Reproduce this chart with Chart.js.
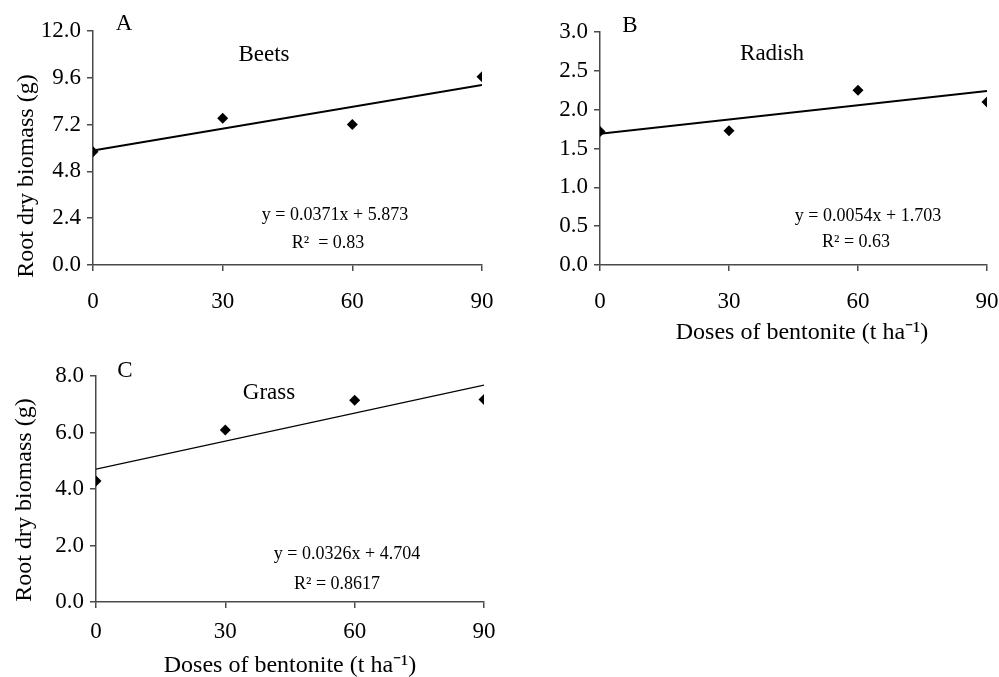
<!DOCTYPE html>
<html>
<head>
<meta charset="utf-8">
<script src="https://cdn.jsdelivr.net/npm/chart.js@4.4.1/dist/chart.umd.min.js"></script>
<style>
  html, body { margin: 0; padding: 0; background: #fff; }
  body { width: 999px; height: 677px; position: relative; overflow: hidden; }
  canvas { position: absolute; }
</style>
</head>
<body>
<canvas id="panelA" width="499" height="330" style="left:0;top:0;width:499px;height:330px"></canvas>
<canvas id="panelB" width="499" height="360" style="left:500px;top:0;width:499px;height:360px"></canvas>
<canvas id="panelC" width="499" height="347" style="left:0;top:330px;width:499px;height:347px"></canvas>
<script>
/* data */
const doses = [0, 30, 60, 90];
const beets = [5.81, 7.52, 7.21, 9.66];
const radish = [1.72, 1.73, 2.25, 2.10];
const grass = [4.28, 6.09, 7.14, 7.17];

// regression line ends (x = 0 and x = 90)
const trendX = [0, 90];
const beetsTrend = [5.87, 9.23];
const radishTrend = [1.69, 2.24];
const grassTrend = [4.70, 7.68];

// y ticks
const beetsTicks = [0, 2.4, 4.8, 7.2, 9.6, 12];
const radishTicks = [0, 0.5, 1, 1.5, 2, 2.5, 3];
const grassTicks = [0, 2, 4, 6, 8];

const SERIF = '"Liberation Serif", "Times New Roman", serif';
const AXIS = '#4a4a4a';
const Y_TITLE = 'Root dry biomass (g)';
const X_TITLE = 'Doses of bentonite (t ha\u207B\u00B9)';

function pts(xs, ys) {
  return xs.map((x, i) => ({ x: x, y: ys[i] }));
}

/* little plugin to write panel letters, crop names, equations and axis titles */
const notes = {
  id: 'notes',
  afterDraw(chart, args, opts) {
    const ctx = chart.ctx;
    (opts.items || []).forEach(n => {
      ctx.save();
      ctx.fillStyle = '#000';
      ctx.textAlign = 'center';
      ctx.textBaseline = 'middle';
      ctx.font = n.size + 'px ' + SERIF;
      ctx.translate(n.x, n.y);
      if (n.rotate) ctx.rotate(-Math.PI / 2);
      ctx.fillText(n.text, 0, 0);
      ctx.restore();
    });
  }
};

function makePanel(id, cfg) {
  const ctx = document.getElementById(id).getContext('2d');
  return new Chart(ctx, {
    type: 'scatter',
    data: {
      datasets: [
        {
          data: pts(doses, cfg.values),
          pointStyle: 'rectRot',
          pointRadius: 5.5,
          pointBackgroundColor: '#000',
          pointBorderColor: '#000',
          pointBorderWidth: 0,
          showLine: false
        },
        {
          data: pts(trendX, cfg.trend),
          showLine: true,
          pointRadius: 0,
          borderColor: '#000',
          borderWidth: cfg.lineWidth
        }
      ]
    },
    options: {
      responsive: false,
      animation: false,
      events: [],
      layout: { padding: cfg.padding },
      plugins: {
        legend: { display: false },
        tooltip: { enabled: false },
        notes: { items: cfg.notes }
      },
      scales: {
        x: {
          type: 'linear',
          min: 0,
          max: 90,
          afterFit: s => { s.height = cfg.xHeight; s.paddingLeft = 0; s.paddingRight = 0; },
          afterBuildTicks: s => { s.ticks = doses.map(v => ({ value: v })); },
          ticks: { color: '#000', font: { family: SERIF, size: 23 }, padding: cfg.xTickPad, maxRotation: 0 },
          grid: { drawOnChartArea: false, drawTicks: true, tickLength: 6, color: AXIS, lineWidth: 1.5 },
          border: { display: true, color: AXIS, width: 1.5 }
        },
        y: {
          min: 0,
          max: cfg.yTicks[cfg.yTicks.length - 1],
          afterFit: s => { s.width = cfg.yWidth; s.paddingTop = 0; s.paddingBottom = 0; },
          afterBuildTicks: s => { s.ticks = cfg.yTicks.map(v => ({ value: v })); },
          ticks: { color: '#000', font: { family: SERIF, size: 23 }, padding: 6, callback: v => Number(v).toFixed(1) },
          grid: { drawOnChartArea: false, drawTicks: true, tickLength: 6, color: AXIS, lineWidth: 1.5 },
          border: { display: true, color: AXIS, width: 1.5 }
        }
      }
    },
    plugins: [notes]
  });
}

makePanel('panelA', {
  values: beets,
  trend: beetsTrend,
  yTicks: beetsTicks,
  lineWidth: 2,
  padding: { top: 31, right: 17, left: 0, bottom: 0 },
  yWidth: 93,
  xHeight: 65,
  xTickPad: 17,
  notes: [
    { text: 'A', x: 124, y: 24, size: 23 },
    { text: 'Beets', x: 264, y: 55, size: 23 },
    { text: 'y = 0.0371x + 5.873', x: 335, y: 215, size: 18 },
    { text: 'R\u00B2  = 0.83', x: 328, y: 243, size: 18 },
    { text: Y_TITLE, x: 27, y: 176, size: 24, rotate: true }
  ]
});

makePanel('panelB', {
  values: radish,
  trend: radishTrend,
  yTicks: radishTicks,
  lineWidth: 2,
  padding: { top: 32, right: 12, left: 0, bottom: 0 },
  yWidth: 100,
  xHeight: 95,
  xTickPad: 17,
  notes: [
    { text: 'B', x: 130, y: 26, size: 23 },
    { text: 'Radish', x: 272, y: 54, size: 23 },
    { text: 'y = 0.0054x + 1.703', x: 368, y: 216, size: 18 },
    { text: 'R\u00B2 = 0.63', x: 356, y: 242, size: 18 },
    { text: X_TITLE, x: 302, y: 333, size: 24 }
  ]
});

makePanel('panelC', {
  values: grass,
  trend: grassTrend,
  yTicks: grassTicks,
  lineWidth: 1.2,
  padding: { top: 46, right: 15, left: 0, bottom: 0 },
  yWidth: 96,
  xHeight: 75,
  xTickPad: 10,
  notes: [
    { text: 'C', x: 125, y: 41, size: 23 },
    { text: 'Grass', x: 269, y: 63, size: 23 },
    { text: 'y = 0.0326x + 4.704', x: 347, y: 224, size: 18 },
    { text: 'R\u00B2 = 0.8617', x: 337, y: 254, size: 18 },
    { text: Y_TITLE, x: 25, y: 170, size: 24, rotate: true },
    { text: X_TITLE, x: 290, y: 336, size: 24 }
  ]
});
</script>
</body>
</html>
